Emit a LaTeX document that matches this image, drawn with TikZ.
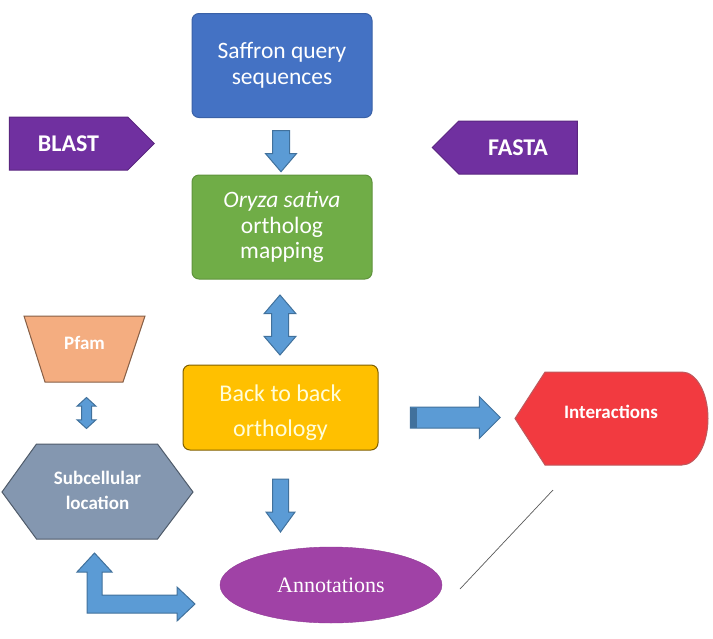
\documentclass[tikz,border=0pt]{standalone}
\usepackage{fontspec}
\setmainfont{Carlito}
\newfontfamily\annfont{Liberation Serif}
\usetikzlibrary{positioning,calc,backgrounds,shapes.geometric,shapes.arrows,shapes.symbols}

\definecolor{queryblue}{HTML}{4472C4}
\definecolor{orthogreen}{HTML}{70AD47}
\definecolor{backyellow}{HTML}{FFC000}
\definecolor{toolpurple}{HTML}{7030A0}
\definecolor{pfamorange}{HTML}{F4AD80}
\definecolor{cellgray}{HTML}{8497B0}
\definecolor{interred}{HTML}{F23A40}
\definecolor{annpurple}{HTML}{A042A6}
\definecolor{arrfill}{HTML}{5B9BD5}
\definecolor{arrline}{HTML}{41719C}

\begin{document}
\begin{tikzpicture}[
    x=1pt, y=-1pt,
    box/.style={draw, line width=1pt, rounded corners=7pt, align=center, text=white,
        minimum width=180pt, minimum height=104pt, font=\fontsize{23.5}{25.5}\selectfont},
    tool/.style={signal, draw=toolpurple!80!black, fill=toolpurple, line width=1pt,
        minimum width=145pt, minimum height=53pt, inner sep=0pt, text=white,
        font=\bfseries\fontsize{24}{26}\selectfont},
    lbl/.style={text=white, align=center, font=\bfseries\fontsize{19}{25}\selectfont},
    blk/.style={single arrow, draw=arrline, fill=arrfill, line width=1pt, inner xsep=0pt},
    dblk/.style={double arrow, draw=arrline, fill=arrfill, line width=1pt, inner xsep=0pt}
]
\useasboundingbox (0,0) rectangle (713,638);

% main column
\node[box, draw=queryblue!85!black, fill=queryblue] (query) at (282,65.5) {Saffron query\\sequences};
\node[box, draw=orthogreen!85!black, fill=orthogreen] (ortho) at (282,227) {\itshape Oryza sativa\\ortholog\\mapping};
\node[box, draw=backyellow!50!black, fill=backyellow, text=yellow!15, minimum width=195pt,
    minimum height=85pt, text height=63pt, font=\fontsize{24}{35}\selectfont] (back) at (280.5,407.5) {Back to back\\orthology};
\node[ellipse, draw=annpurple!90!black, fill=annpurple, minimum width=222pt, minimum height=76pt,
    inner sep=0pt, text=white, font=\annfont\fontsize{22}{24}\selectfont] (ann) at (331,585) {Annotations};

% tools
\node[tool, signal to=east] (blast) at (68.5,143.5) {BLAST};
\node[tool, signal to=west] (fasta) at (518,147.5) {FASTA};

% side shapes (outline drawn behind the text)
\node[lbl] (pfam) at (84.5,343) {Pfam};
\node[lbl] (subcell) at (97.5,490) {Subcellular\\location};
\node[lbl] (inter) at (611,412) {Interactions};

\begin{scope}[on background layer]
\path[fill=pfamorange, draw=pfamorange!55!black, line width=1pt]
    ($(pfam)+(-60.5,-27)$) -- ($(pfam)+(60.5,-27)$) -- ($(pfam)+(38.5,39)$) -- ($(pfam)+(-39.5,39)$) -- cycle;
\path[fill=cellgray, draw=cellgray!60!black, line width=1pt]
    ($(subcell)+(-95.5,2)$) -- ($(subcell)+(-61,-46)$) -- ($(subcell)+(60,-46)$) -- ($(subcell)+(95.5,2)$)
    -- ($(subcell)+(60,49)$) -- ($(subcell)+(-61,49)$) -- cycle;
\path[fill=interred, draw=interred!55!gray, line width=1pt]
    ($(inter)+(-96,6.5)$) -- ($(inter)+(-66,-40)$) -- ($(inter)+(71,-40)$)
    arc[start angle=-90, end angle=90, x radius=26, y radius=46.5]
    -- ($(inter)+(-66,53)$) -- cycle;
\end{scope}

% block arrows
\node[blk, rotate=-90, minimum height=41pt, inner ysep=8pt,
    single arrow head extend=7pt, single arrow tip angle=81] (a1) at ($(query.south)!0.5!(ortho.north)+(-1,0)$) {};
\node[dblk, rotate=90, minimum height=60pt, inner ysep=8pt,
    double arrow head extend=7.5pt, double arrow tip angle=81] (a2) at (280,325) {};
\node[blk, rotate=-90, minimum height=53pt, inner ysep=7.5pt,
    single arrow head extend=6.5pt, single arrow tip angle=72] (a3) at (280.5,500) {};
\node[blk, minimum height=90pt, inner ysep=10pt, single arrow head extend=10.5pt] (a4) at (450,417.5) {};
\fill[arrline] (a4.tail) ++(0,-10) rectangle ++(7,20);
\node[dblk, rotate=90, minimum height=31pt, inner ysep=4.5pt,
    double arrow head extend=4.5pt, double arrow tip angle=95] (a5) at (86.5,413) {};

% bent arrow between location and annotations
\path[fill=arrfill, draw=arrline, line width=1pt]
    (94.5,553) -- (112,572) -- (102,572) -- (102,595) -- (177,595) -- (177,587) -- (195,604)
    -- (177,621) -- (177,613) -- (87,613) -- (87,572) -- (77,572) -- cycle;

% thin stroke
\coordinate (s1) at (553,490);
\coordinate (s2) at (460,589);
\draw[black!65, line width=0.7pt] (s1) -- (s2);

\end{tikzpicture}
\end{document}
